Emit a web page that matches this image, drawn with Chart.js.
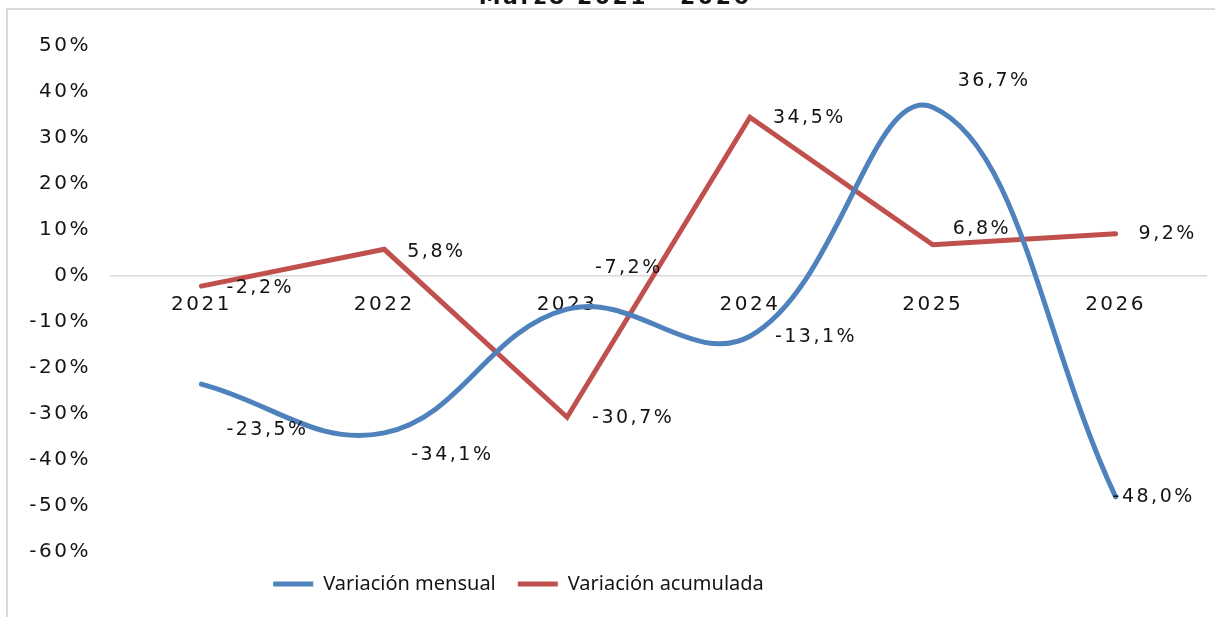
<!DOCTYPE html>
<html>
<head>
<meta charset="utf-8">
<script src="https://cdn.jsdelivr.net/npm/chart.js@4.4.1/dist/chart.umd.min.js"></script>
<style>
  html, body { margin: 0; padding: 0; background: #fff; }
  #wrap { position: relative; width: 1215px; height: 617px; overflow: hidden; }
</style>
</head>
<body>
<div id="wrap"><canvas id="chart" width="1215" height="617"></canvas></div>
<script>
(function() {

    "use strict";

    // data
    const years = ['2021', '2022', '2023', '2024', '2025', '2026'];
    const mensual = [-23.5, -34.1, -7.2, -13.1, 36.7, -48.0];
    const acumulada = [-2.2, 5.8, -30.7, 34.5, 6.8, 9.2];
    const seriesNames = ['Variación mensual', 'Variación acumulada'];
    const titleText = 'Marzo 2021 - 2026';
    const yMin = -60, yMax = 50, yStep = 10;

    // label nudges (px) beside each point, like the hand-placed Excel labels
    const mensualShift = [[25, 46], [27, 22], [28, -41], [25, 1], [25, -26], [-3, 0]];
    const acumuladaShift = [[25, 2], [23, 3], [25, 1], [23, 1], [20, -16], [23, 0]];

    const blue = '#4F81BD',
        red = '#C0504D',
        ink = '#141414',
        frame = '#d9d9d9',
        face = '"DejaVu Sans", sans-serif',
        spacing = '2.5px';

    const fmt = v => v.toFixed(1).replace('.', ',') + '%';

    const decor = {
        id: 'decor',
        afterInit(chart) {
            // legend text is drawn without the extra tracking
            const legend = chart.legend,
                draw = legend.draw;
            legend.draw = function() {
                chart.ctx.save();
                chart.ctx.letterSpacing = '0px';
                draw.apply(this, arguments);
                chart.ctx.restore();
            };
        },
        beforeUpdate(chart) { chart.ctx.letterSpacing = '0px'; },
        beforeDraw(chart) {
            const ctx = chart.ctx;
            ctx.letterSpacing = spacing;
            ctx.save();
            ctx.fillStyle = frame;
            ctx.fillRect(6, 8, chart.width - 6, 2);
            ctx.fillRect(6, 8, 2, chart.height - 8);
            ctx.restore();
        },
        afterLayout(chart) {
            // pull the legend block left, as in the reference
            chart.legend.right -= 180;
            chart.legend.width -= 180;
        },
        afterDatasetsDraw(chart) {
            const ctx = chart.ctx;
            ctx.save();
            ctx.font = '19px ' + face;
            ctx.fillStyle = ink;
            ctx.textAlign = 'left';
            ctx.textBaseline = 'middle';
            [mensualShift, acumuladaShift].forEach((shift, di) => {
                const meta = chart.getDatasetMeta(di);
                const values = chart.data.datasets[di].data;
                meta.data.forEach((pt, i) => {
                    ctx.fillText(fmt(values[i]), pt.x + shift[i][0], pt.y + shift[i][1]);
                });
            });
            ctx.restore();
        },
        afterDraw(chart) {
            const ctx = chart.ctx;
            ctx.save();
            ctx.font = 'bold 22px ' + face;
            ctx.fillStyle = ink;
            ctx.textAlign = 'center';
            ctx.textBaseline = 'alphabetic';
            ctx.fillText(titleText, 615, 4);
            ctx.restore();
        }
    };

    new Chart(document.getElementById('chart'), {
        type: 'line',
        data: {
            labels: years,
            datasets: [{
                label: seriesNames[0],
                data: mensual,
                borderColor: blue,
                backgroundColor: blue,
                borderWidth: 5,
                borderCapStyle: 'round',
                tension: 0.4,
                pointRadius: 0,
                fill: false
            }, {
                label: seriesNames[1],
                data: acumulada,
                borderColor: red,
                backgroundColor: red,
                borderWidth: 5,
                borderCapStyle: 'round',
                tension: 0,
                pointRadius: 0,
                fill: false
            }]
        },
        options: {
            responsive: false,
            animation: false,
            layout: {
                padding: { top: 46, left: 10, right: 8, bottom: 13 }
            },
            plugins: {
                title: { display: false },
                tooltip: { enabled: false },
                legend: {
                    position: 'bottom',
                    labels: {
                        usePointStyle: true,
                        pointStyle: 'line',
                        pointStyleWidth: 40,
                        padding: 22,
                        color: ink,
                        font: { family: '"Noto Sans", sans-serif', size: 20 }
                    }
                }
            },
            scales: {
                x: {
                    type: 'category',
                    position: { y: 0 },
                    offset: true,
                    grid: { display: false },
                    border: { display: false },
                    ticks: {
                        color: ink,
                        padding: 9,
                        maxRotation: 0,
                        font: { family: face, size: 20 }
                    }
                },
                y: {
                    min: yMin,
                    max: yMax,
                    afterFit(scale) { scale.width = 100; },
                    grid: {
                        drawTicks: false,
                        lineWidth: 1.5,
                        color: ctx => ctx.tick && ctx.tick.value === 0 ? frame : 'rgba(0,0,0,0)'
                    },
                    border: { display: false },
                    ticks: {
                        stepSize: yStep,
                        padding: 19,
                        color: ink,
                        font: { family: face, size: 20 },
                        callback: v => v + '%'
                    }
                }
            }
        },
        plugins: [decor]
    });
})();
</script>
</body>
</html>
